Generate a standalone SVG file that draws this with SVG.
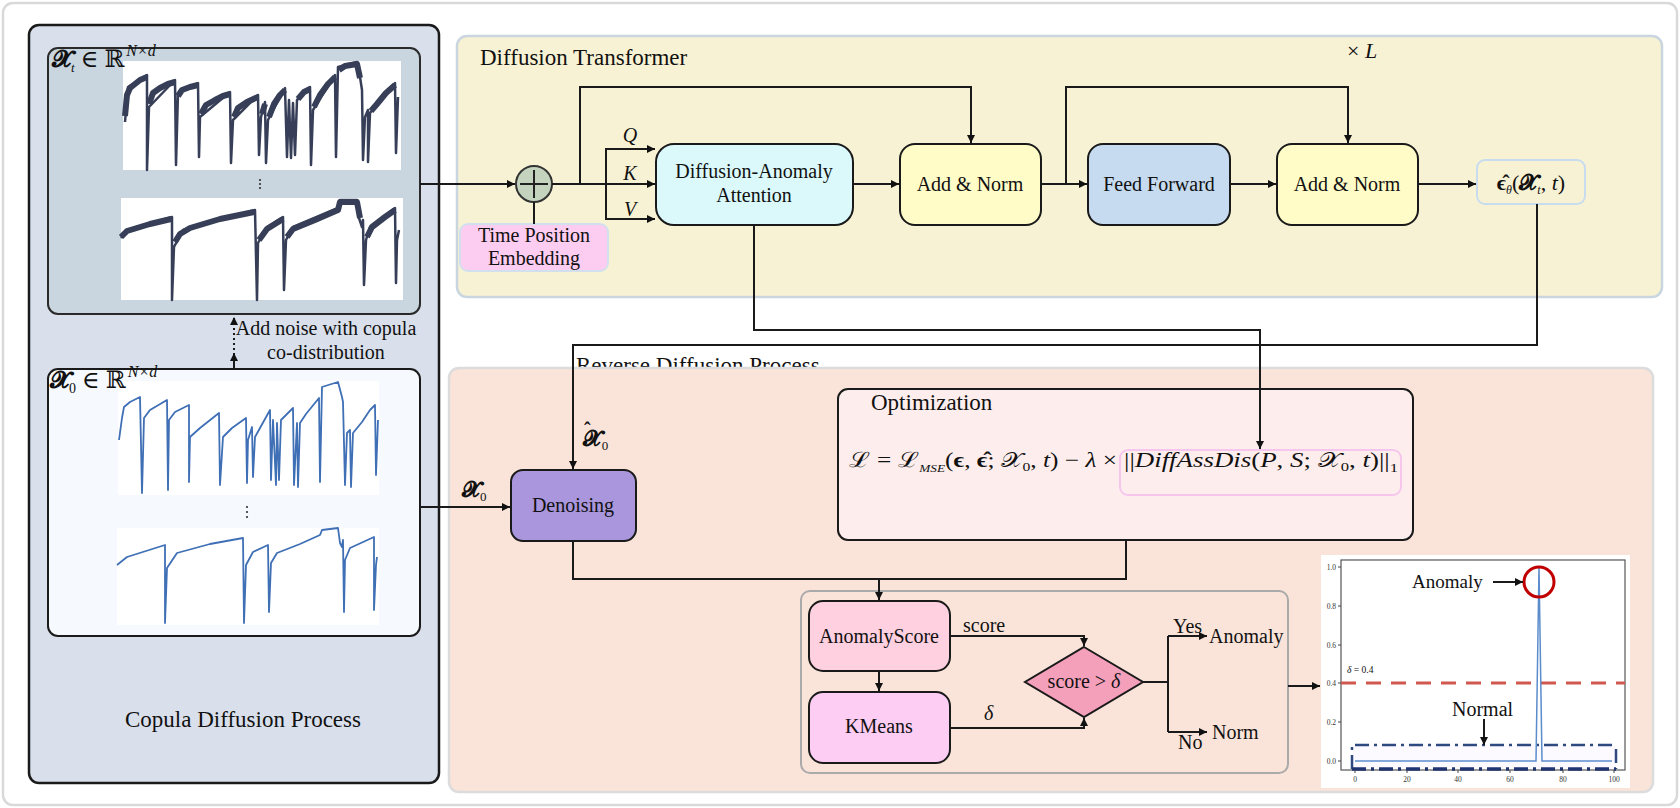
<svg xmlns="http://www.w3.org/2000/svg" width="1680" height="808" viewBox="0 0 1680 808">
<defs>
<marker id="ah" viewBox="0 0 10 10" refX="10" refY="5" markerWidth="9" markerHeight="8" markerUnits="userSpaceOnUse" orient="auto"><path d="M0,0 L10,5 L0,10 z" fill="#111"/></marker>
<style>
.t{font-family:"Liberation Serif","DejaVu Serif",serif;fill:#111;}
.m{font-family:"Liberation Serif","DejaVu Serif",serif;fill:#111;}
.bx{stroke:#1a1a1a;stroke-width:2;}
.cn{fill:none;stroke:#1a1a1a;stroke-width:2;}
.ar{marker-end:url(#ah);}
.ser{fill:none;stroke-linejoin:round;}
.tk{font-family:"Liberation Serif","DejaVu Serif",serif;font-size:7.5px;fill:#333;}
</style>
</defs>
<rect x="3" y="3" width="1674" height="802" rx="10" fill="#fff" stroke="#d9d9d9" stroke-width="2.5"/>

<g id="copula-panel">
<rect x="29" y="25" width="410" height="758" rx="10" fill="#d9e0ec" stroke="#1a1a1a" stroke-width="2.5"/>
<text class="t" x="243" y="727" font-size="23" text-anchor="middle">Copula Diffusion Process</text>
</g>

<g id="xt-box">
<rect x="48" y="48" width="372" height="266" rx="10" fill="#c9d6e0" stroke="#2a2a2a" stroke-width="2"/>
<rect x="123" y="61" width="278" height="109" fill="#fff"/>
<rect x="121" y="198" width="282" height="102" fill="#fff"/>
<polyline class="ser" stroke="#373f58" stroke-width="2.5" points="125,122 128,87 147,75 147,170 149,107 175,80 176,165 178,93 198,83 199,157 200,117 230,92 231,163 233,120 258,95 259,155 261,117 265,102 266,163 268,120 285,88 287,157 289,100 291,158 293,103 295,155 297,100 310,87 311,165 313,110 335,75 336,157 338,67 357,62 360,77 362,90 363,160 365,117 368,110 368,162 370,113 395,83 396,153 398,97"/>
<path class="ser" stroke="#373f58" stroke-width="6" stroke-linecap="butt" d="M125,116 L127,95 L130,88 L135,84 L140,80 L147,77 M149,104 L153,93 L160,88 L168,84 L175,82 M178,96 L182,90 L190,87 L198,85 M201,114 L206,105 L215,100 L223,96 L230,94 M234,117 L238,108 L247,102 L258,97 M262,114 L265,104 M269,117 L274,104 L280,95 L285,90 M298,99 L304,92 L310,89 M314,107 L320,95 L328,84 L335,77 M339,70 L345,66 L357,64 L360,78 M371,111 L377,104 L386,93 L395,85"/>
<polyline class="ser" stroke="#373f58" stroke-width="2.5" points="121,238 127,230 172,217 172,300 174,247 183,230 255,210 257,300 258,243 267,227 283,217 284,290 286,240 293,227 338,208 340,200 357,200 359,218 362,227 363,220 364,285 366,240 370,227 395,208 396,283 397,240 399,230"/>
<path class="ser" stroke="#373f58" stroke-width="6" stroke-linecap="butt" d="M121,237 L127,231 L150,224 L171,219 M175,242 L180,234 L190,228 L220,219 L254,212 M259,240 L267,229 L283,219 M287,237 L293,229 L315,220 L338,210 L340,202 L357,202 L360,218 M367,237 L372,227 L385,217 L395,210"/>
<circle cx="260" cy="180" r="1.1" fill="#333"/><circle cx="260" cy="184" r="1.1" fill="#333"/><circle cx="260" cy="188" r="1.1" fill="#333"/>
<text class="m" x="52" y="67" font-size="24"><tspan font-weight="bold">𝓧</tspan><tspan font-size="13" font-style="italic" dy="5">t</tspan><tspan dy="-5"> ∈ ℝ</tspan><tspan font-size="16" font-style="italic" dy="-11" dx="2">N×d</tspan></text>
</g>

<g id="noise-label">
<text class="t" x="326" y="335" font-size="20" text-anchor="middle">Add noise with copula</text>
<text class="t" x="326" y="359" font-size="20" text-anchor="middle">co-distribution</text>
</g>

<g id="x0-box">
<rect x="48" y="369" width="372" height="267" rx="10" fill="#f6f9fe" stroke="#1a1a1a" stroke-width="2"/>
<rect x="118" y="381" width="261" height="114" fill="#fff"/>
<rect x="117" y="528" width="262" height="97" fill="#fff"/>
<polyline class="ser" stroke="#3f6fb5" stroke-width="1.8" points="119,440 122,418 124,407 130,402 140,397 142,493 144,418 150,410 167,400 168,490 169,420 175,412 189,405 189,482 190,437 200,428 219,413 220,485 223,437 232,428 246,418 247,483 248,440 252,427 253,477 255,437 270,410 271,480 273,420 276,485 277,423 279,480 281,420 293,408 294,485 297,423 298,487 300,423 306,414 319,398 320,482 322,387 338,382 342,397 343,402 345,485 347,433 350,430 351,487 353,433 362,422 370,410 375,405 376,475 378,420"/>
<polyline class="ser" stroke="#3f6fb5" stroke-width="1.8" points="117,565 127,557 165,545 165,623 167,568 177,553 210,544 243,538 244,623 246,565 253,552 268,545 269,612 271,563 277,553 300,544 320,535 322,530 338,528 340,543 342,547 343,540 344,612 345,560 350,548 374,537 374,610 376,565 377,557"/>
<circle cx="247" cy="507" r="1.1" fill="#333"/><circle cx="247" cy="512" r="1.1" fill="#333"/><circle cx="247" cy="517" r="1.1" fill="#333"/>
<text class="m" x="50" y="388" font-size="24"><tspan font-weight="bold">𝓧</tspan><tspan font-size="14" dy="5">0</tspan><tspan dy="-5"> ∈ ℝ</tspan><tspan font-size="16" font-style="italic" dy="-11" dx="2">N×d</tspan></text>
</g>

<g id="dt-panel">
<rect x="457" y="36" width="1205" height="261" rx="10" fill="#f8f2d4" stroke="#cad6df" stroke-width="2.5"/>
<text class="t" x="480" y="65" font-size="23">Diffusion Transformer</text>
<text class="m" x="1347" y="58" font-size="22">× <tspan font-style="italic">L</tspan></text>
</g>

<g id="plus">
<circle cx="534" cy="184" r="18" fill="#c3d3bd" stroke="#333" stroke-width="2"/>
<path d="M534,170 V198 M520,184 H548" stroke="#222" stroke-width="2"/>
</g>

<g id="tpe">
<rect x="460" y="224" width="148" height="47" rx="8" fill="#fccdf0" stroke="#d2e0ee" stroke-width="2"/>
<text class="t" x="534" y="242" font-size="20" text-anchor="middle">Time Position</text>
<text class="t" x="534" y="265" font-size="20" text-anchor="middle">Embedding</text>
</g>

<g id="qkv-labels">
<text class="m" x="630" y="142" font-size="20" font-style="italic" text-anchor="middle">Q</text>
<text class="m" x="630" y="180" font-size="20" font-style="italic" text-anchor="middle">K</text>
<text class="m" x="630" y="216" font-size="20" font-style="italic" text-anchor="middle">V</text>
</g>

<g id="attention">
<rect class="bx" x="656" y="144" width="197" height="81" rx="18" fill="#dbf9fb"/>
<text class="t" x="754" y="178" font-size="20" text-anchor="middle">Diffusion-Anomaly</text>
<text class="t" x="754" y="202" font-size="20" text-anchor="middle">Attention</text>
</g>

<g id="addnorm1">
<rect class="bx" x="900" y="144" width="141" height="81" rx="15" fill="#fffcc8"/>
<text class="t" x="970" y="191" font-size="20" text-anchor="middle">Add &amp; Norm</text>
</g>

<g id="feedforward">
<rect class="bx" x="1088" y="144" width="142" height="81" rx="15" fill="#c6dbf0"/>
<text class="t" x="1159" y="191" font-size="20" text-anchor="middle">Feed Forward</text>
</g>

<g id="addnorm2">
<rect class="bx" x="1277" y="144" width="141" height="81" rx="15" fill="#fffcc8"/>
<text class="t" x="1347" y="191" font-size="20" text-anchor="middle">Add &amp; Norm</text>
</g>

<g id="output">
<rect x="1477" y="160" width="108" height="44" rx="8" fill="#f8f2d4" stroke="#c8dcef" stroke-width="2"/>
<text class="m" x="1531" y="190" font-size="22" text-anchor="middle"><tspan font-weight="bold">ϵ̂</tspan><tspan font-size="12" font-style="italic" dy="4">θ</tspan><tspan dy="-4">(</tspan><tspan font-weight="bold">𝓧</tspan><tspan font-size="12" font-style="italic" dy="4">t</tspan><tspan dy="-4">, </tspan><tspan font-style="italic">t</tspan>)</text>
</g>

<text class="t" x="576" y="373" font-size="23">Reverse Diffusion Process</text>

<g id="reverse-panel">
<rect x="449" y="368" width="1204" height="424" rx="10" fill="#fae4d9" stroke="#dcdcdc" stroke-width="2.5"/>
</g>

<g id="denoising">
<rect class="bx" x="511" y="470" width="125" height="71" rx="12" fill="#a996dc"/>
<text class="t" x="573" y="512" font-size="20" text-anchor="middle">Denoising</text>
<text class="m" x="462" y="497" font-size="22"><tspan font-weight="bold">𝓧</tspan><tspan font-size="13" dy="4">0</tspan></text>
<text class="m" x="583" y="446" font-size="22"><tspan font-weight="bold">𝓧</tspan><tspan font-size="20" font-weight="bold" dx="-17" dy="-9">ˆ</tspan><tspan font-size="13" dx="11" dy="13">0</tspan></text>
</g>

<g id="optimization">
<rect class="bx" x="838" y="389" width="575" height="151" rx="10" fill="#fdeeed"/>
<text class="t" x="871" y="410" font-size="23">Optimization</text>
<rect x="1120" y="450" width="281" height="45" rx="8" fill="none" stroke="#f7c6ee" stroke-width="2"/>
<text class="m" x="849" y="467" font-size="21" textLength="268" lengthAdjust="spacingAndGlyphs">ℒ = ℒ<tspan font-size="11" font-style="italic" dy="5">MSE</tspan><tspan dy="-5">(</tspan><tspan font-weight="bold">ϵ</tspan>, <tspan font-weight="bold">ϵ̂</tspan>; 𝒳<tspan font-size="13" dy="4">0</tspan><tspan dy="-4">, </tspan><tspan font-style="italic">t</tspan>) − <tspan font-style="italic">λ</tspan> ×</text>
<text class="m" x="1124" y="467" font-size="21" textLength="274" lengthAdjust="spacingAndGlyphs">||<tspan font-style="italic">DiffAssDis</tspan>(<tspan font-style="italic">P</tspan>, <tspan font-style="italic">S</tspan>; 𝒳<tspan font-size="13" dy="4">0</tspan><tspan dy="-4">, </tspan><tspan font-style="italic">t</tspan>)||<tspan font-size="13" dy="5">1</tspan></text>
</g>

<g id="decision-group">
<rect x="801" y="591" width="487" height="182" rx="9" fill="none" stroke="#aaaaaa" stroke-width="2"/>
</g>

<g id="anomalyscore">
<rect class="bx" x="809" y="601" width="141" height="70" rx="14" fill="#ffd0e0"/>
<text class="t" x="879" y="643" font-size="20" text-anchor="middle">AnomalyScore</text>
</g>

<g id="kmeans">
<rect class="bx" x="809" y="692" width="141" height="71" rx="14" fill="#fdcdf3"/>
<text class="t" x="879" y="733" font-size="20" text-anchor="middle">KMeans</text>
</g>

<g id="decision">
<path class="bx" d="M1084,647 L1143,682 L1084,717 L1025,682 Z" fill="#f5a0bb"/>
<text class="m" x="1084" y="688" font-size="20" text-anchor="middle">score &gt; <tspan font-style="italic">δ</tspan></text>
</g>

<g id="results">
<text class="t" x="1209" y="643" font-size="20">Anomaly</text>
<text class="t" x="1212" y="739" font-size="20">Norm</text>
</g>

<g id="chart">
<rect x="1321" y="555" width="309" height="233" fill="#fff"/>
<rect x="1341" y="560" width="284" height="210" fill="none" stroke="#555" stroke-width="1.2"/>
<rect x="1352" y="745" width="264" height="24" fill="#fdfaff" stroke="none"/>
<path d="M1352,769 V745 H1616 M1616,749 V769" fill="none" stroke="#2f4a80" stroke-width="2.5" stroke-dasharray="14,5,3,5"/>
<path d="M1352,769 H1616" fill="none" stroke="#1f3470" stroke-width="3.5" stroke-dasharray="14,5,3,5"/>
<line x1="1341" y1="683" x2="1625" y2="683" stroke="#d0584e" stroke-width="3" stroke-dasharray="15,10"/>
<polyline fill="none" stroke="#5b8ccc" stroke-width="1.5" points="1355,761 1536,761 1539,567 1542,761 1612,761"/>
<circle cx="1539" cy="582" r="15" fill="none" stroke="#c00000" stroke-width="3"/>
<g stroke="#444" stroke-width="1">
<path d="M1338,567H1341M1338,606H1341M1338,645H1341M1338,683H1341M1338,722H1341M1338,761H1341"/>
<path d="M1355,770V773M1407,770V773M1458,770V773M1510,770V773M1563,770V773M1614,770V773"/>
</g>
<g class="tk" text-anchor="end">
<text x="1336" y="569.5">1.0</text><text x="1336" y="608.5">0.8</text><text x="1336" y="647.5">0.6</text><text x="1336" y="685.5">0.4</text><text x="1336" y="724.5">0.2</text><text x="1336" y="763.5">0.0</text>
</g>
<g class="tk" text-anchor="middle">
<text x="1355" y="782">0</text><text x="1407" y="782">20</text><text x="1458" y="782">40</text><text x="1510" y="782">60</text><text x="1563" y="782">80</text><text x="1614" y="782">100</text>
</g>
<text class="m" x="1347" y="673" font-size="9.5"><tspan font-style="italic">δ</tspan> = 0.4</text>
<text class="t" x="1412" y="588" font-size="19">Anomaly</text>
<text class="t" x="1452" y="716" font-size="20">Normal</text>
</g>

<g id="connectors">
<path class="cn ar" d="M420,184 H515"/>
<path class="cn" d="M534,202 V224"/>
<path class="cn ar" d="M552,184 H655"/>
<path class="cn ar" d="M580,184 V87 H971 V143"/>
<path class="cn ar" d="M606,184 V149 H655"/>
<path class="cn ar" d="M606,184 V219 H655"/>
<path class="cn ar" d="M853,184 H899"/>
<path class="cn ar" d="M1041,184 H1087"/>
<path class="cn ar" d="M1066,184 V87 H1348 V143"/>
<path class="cn ar" d="M1230,184 H1276"/>
<path class="cn ar" d="M1418,184 H1476"/>
<path class="cn ar" d="M1537,204 V345 H573 V469"/>
<path class="cn ar" d="M754,225 V330 H1260 V449"/>
<path class="cn ar" d="M420,507 H510"/>
<path class="cn" d="M573,541 V579 H1126 V540"/>
<path class="cn ar" d="M879,579 V600"/>
<path class="cn ar" d="M879,671 V691"/>
<path class="cn ar" d="M950,636 H1084 V646"/>
<path class="cn ar" d="M950,728 H1084 V718"/>
<path class="cn" d="M1143,682 H1168 M1168,636 V732"/>
<path class="cn ar" d="M1168,636 H1207"/>
<path class="cn ar" d="M1168,732 H1207"/>
<path class="cn ar" d="M1288,686 H1320"/>
<path class="cn ar" d="M234,369 V353"/>
<path class="cn ar" d="M234,350 V317" stroke-dasharray="2,3"/>
<path class="cn ar" d="M1493,582 H1523"/>
<path class="cn ar" d="M1484,719 V745"/>
<text class="t" x="963" y="632" font-size="20">score</text>
<text class="m" x="984" y="720" font-size="20" font-style="italic">δ</text>
<text class="t" x="1173" y="633" font-size="20">Yes</text>
<text class="t" x="1178" y="749" font-size="20">No</text>
</g>
</svg>
